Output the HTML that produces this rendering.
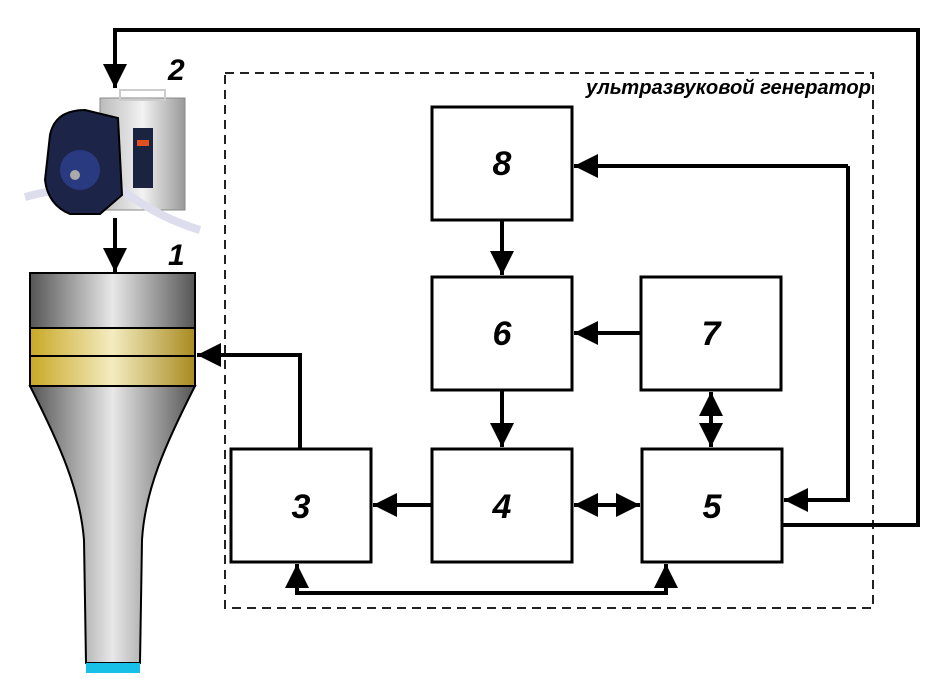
<!DOCTYPE html>
<html><head><meta charset="utf-8"><style>
html,body{margin:0;padding:0;background:#fff;width:941px;height:700px;overflow:hidden}
</style></head><body>
<svg width="941" height="700" viewBox="0 0 941 700" xmlns="http://www.w3.org/2000/svg">
<defs>
<linearGradient id="g" x1="0" x2="1"><stop offset="0" stop-color="#555"/><stop offset="0.5" stop-color="#e8e8e8"/><stop offset="1" stop-color="#555"/></linearGradient>
<linearGradient id="gold" x1="0" x2="1"><stop offset="0" stop-color="#c9a826"/><stop offset="0.5" stop-color="#f3ecc0"/><stop offset="1" stop-color="#a88a20"/></linearGradient>
<linearGradient id="steel" x1="0" x2="1"><stop offset="0" stop-color="#bbb"/><stop offset="0.5" stop-color="#f2f2f2"/><stop offset="1" stop-color="#999"/></linearGradient>
<marker id="a" viewBox="0 0 10 10" refX="10" refY="5" markerWidth="6" markerHeight="6" orient="auto-start-reverse"><path d="M0,0L10,5L0,10z" fill="#000"/></marker>
</defs>
<rect x="225" y="73" width="648" height="535" fill="none" stroke="#222" stroke-width="2" stroke-dasharray="9,6"/>
<text x="871" y="94" text-anchor="end" font-family="Liberation Sans,sans-serif" font-style="italic" font-weight="bold" font-size="20" textLength="285" lengthAdjust="spacingAndGlyphs">ультразвуковой генератор</text>
<!-- pump -->
<rect x="100" y="98" width="85" height="112" fill="url(#steel)" stroke="#888"/>
<rect x="120" y="90" width="45" height="10" fill="none" stroke="#ccc" stroke-width="2"/>
<rect x="133" y="128" width="20" height="60" fill="#1a2440"/>
<rect x="137" y="140" width="12" height="6" fill="#e05020"/>
<path d="M25,197 Q70,185 100,190" stroke="#dde" stroke-width="8" fill="none"/>
<path d="M110,180 Q150,215 200,230" stroke="#dde" stroke-width="8" fill="none"/>
<path d="M50,135 Q55,110 85,110 L118,118 L122,195 L100,214 L70,214 Q48,205 45,180z" fill="#1c2448" stroke="#000" stroke-width="2"/>
<circle cx="80" cy="170" r="20" fill="#2a3a80"/>
<circle cx="75" cy="175" r="5" fill="#aaa"/>
<text x="168" y="80" font-family="Liberation Sans,sans-serif" font-style="italic" font-weight="bold" font-size="30">2</text>
<text x="168" y="265" font-family="Liberation Sans,sans-serif" font-style="italic" font-weight="bold" font-size="30">1</text>
<!-- horn -->
<path d="M30,386 L195,386 C165,445 145,490 142,540 L140,663 L86,663 L84,540 C80,490 60,445 30,386z" fill="url(#g)" stroke="#000" stroke-width="2"/>
<rect x="86" y="663" width="54" height="10" fill="#18c0e8"/>
<rect x="30" y="273" width="165" height="55" fill="url(#g)" stroke="#000" stroke-width="2"/>
<rect x="30" y="328" width="165" height="28" fill="url(#gold)" stroke="#000" stroke-width="2"/>
<rect x="30" y="356" width="165" height="30" fill="url(#gold)" stroke="#000" stroke-width="2"/>
<g fill="#fff" stroke="#000" stroke-width="3">
<rect x="432" y="107" width="140" height="113"/>
<rect x="432" y="277" width="140" height="113"/>
<rect x="641" y="277" width="140" height="113"/>
<rect x="231" y="449" width="140" height="113"/>
<rect x="432" y="449" width="140" height="113"/>
<rect x="642" y="449" width="140" height="113"/>
</g>
<g font-family="Liberation Sans,sans-serif" font-style="italic" font-weight="bold" font-size="34" text-anchor="middle">
<text x="502" y="175">8</text><text x="502" y="345">6</text><text x="711" y="345">7</text>
<text x="301" y="518">3</text><text x="502" y="518">4</text><text x="712" y="518">5</text>
</g>
<g fill="none" stroke="#000" stroke-width="4">
<polyline points="782,525 918,525 918,30 115,30 115,88" marker-end="url(#a)"/>
<line x1="115" y1="218" x2="115" y2="272" marker-end="url(#a)"/>
<polyline points="848,166 848,500 784,500" marker-end="url(#a)"/>
<line x1="848" y1="166" x2="574" y2="166" marker-end="url(#a)"/>
<line x1="502" y1="220" x2="502" y2="275" marker-end="url(#a)"/>
<line x1="502" y1="390" x2="502" y2="447" marker-end="url(#a)"/>
<line x1="641" y1="333" x2="574" y2="333" marker-end="url(#a)"/>
<line x1="711" y1="392" x2="711" y2="447" marker-start="url(#a)" marker-end="url(#a)"/>
<line x1="574" y1="505" x2="640" y2="505" marker-start="url(#a)" marker-end="url(#a)"/>
<line x1="432" y1="505" x2="373" y2="505" marker-end="url(#a)"/>
<polyline points="300,449 300,355 197,355" marker-end="url(#a)"/>
<polyline points="297,564 297,593 666,593 666,564" marker-start="url(#a)" marker-end="url(#a)"/>
</g>
</svg>
</body></html>
